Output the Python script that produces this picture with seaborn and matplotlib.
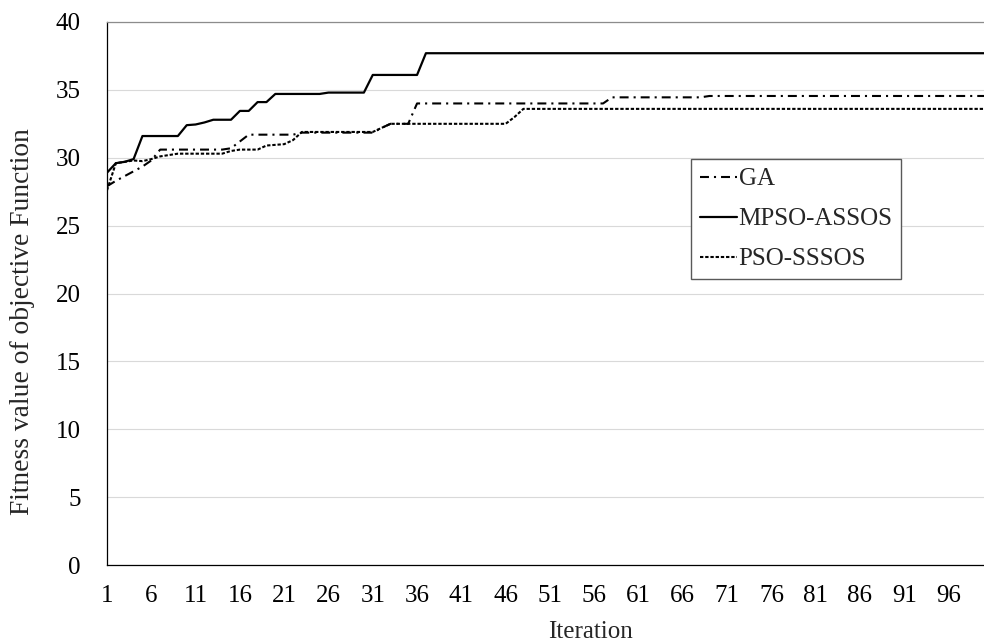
import matplotlib
matplotlib.use("Agg")
import matplotlib.pyplot as plt
import seaborn as sns
import pandas as pd

# Fitness value per iteration for each algorithm
iterations = list(range(1, 101))

ga = [
    27.9, 28.3, 28.65, 29.0, 29.35, 29.8, 30.6, 30.6, 30.6, 30.6,
    30.6, 30.6, 30.6, 30.6, 30.7, 31.2, 31.7, 31.7, 31.7, 31.7,
    31.7, 31.7, 31.85, 31.85, 31.85, 31.85, 31.85, 31.85, 31.85, 31.85,
    31.85, 32.2, 32.5, 32.5, 32.5, 34.0, 34.0, 34.0, 34.0, 34.0,
    34.0, 34.0, 34.0, 34.0, 34.0, 34.0, 34.0, 34.0, 34.0, 34.0,
    34.0, 34.0, 34.0, 34.0, 34.0, 34.0, 34.0, 34.45, 34.45, 34.45,
    34.45, 34.45, 34.45, 34.45, 34.45, 34.45, 34.45, 34.45, 34.55, 34.55,
    34.55, 34.55, 34.55, 34.55, 34.55, 34.55, 34.55, 34.55, 34.55, 34.55,
    34.55, 34.55, 34.55, 34.55, 34.55, 34.55, 34.55, 34.55, 34.55, 34.55,
    34.55, 34.55, 34.55, 34.55, 34.55, 34.55, 34.55, 34.55, 34.55, 34.55,
]

mpso_assos = [
    28.9, 29.6, 29.7, 29.9, 31.6, 31.6, 31.6, 31.6, 31.6, 32.4,
    32.45, 32.6, 32.8, 32.8, 32.8, 33.45, 33.45, 34.1, 34.1, 34.7,
    34.7, 34.7, 34.7, 34.7, 34.7, 34.8, 34.8, 34.8, 34.8, 34.8,
    36.1, 36.1, 36.1, 36.1, 36.1, 36.1, 37.7, 37.7, 37.7, 37.7,
    37.7, 37.7, 37.7, 37.7, 37.7, 37.7, 37.7, 37.7, 37.7, 37.7,
    37.7, 37.7, 37.7, 37.7, 37.7, 37.7, 37.7, 37.7, 37.7, 37.7,
    37.7, 37.7, 37.7, 37.7, 37.7, 37.7, 37.7, 37.7, 37.7, 37.7,
    37.7, 37.7, 37.7, 37.7, 37.7, 37.7, 37.7, 37.7, 37.7, 37.7,
    37.7, 37.7, 37.7, 37.7, 37.7, 37.7, 37.7, 37.7, 37.7, 37.7,
    37.7, 37.7, 37.7, 37.7, 37.7, 37.7, 37.7, 37.7, 37.7, 37.7,
]

pso_sssos = [
    27.6, 29.6, 29.7, 29.8, 29.75, 29.9, 30.1, 30.2, 30.3, 30.3,
    30.3, 30.3, 30.3, 30.3, 30.5, 30.6, 30.6, 30.6, 30.9, 30.95,
    31.0, 31.3, 31.9, 31.9, 31.9, 31.9, 31.9, 31.9, 31.9, 31.9,
    31.9, 32.2, 32.5, 32.5, 32.5, 32.5, 32.5, 32.5, 32.5, 32.5,
    32.5, 32.5, 32.5, 32.5, 32.5, 32.5, 33.0, 33.6, 33.6, 33.6,
    33.6, 33.6, 33.6, 33.6, 33.6, 33.6, 33.6, 33.6, 33.6, 33.6,
    33.6, 33.6, 33.6, 33.6, 33.6, 33.6, 33.6, 33.6, 33.6, 33.6,
    33.6, 33.6, 33.6, 33.6, 33.6, 33.6, 33.6, 33.6, 33.6, 33.6,
    33.6, 33.6, 33.6, 33.6, 33.6, 33.6, 33.6, 33.6, 33.6, 33.6,
    33.6, 33.6, 33.6, 33.6, 33.6, 33.6, 33.6, 33.6, 33.6, 33.6,
]

series_names = ["GA", "MPSO-ASSOS", "PSO-SSSOS"]
y_ticks = [0, 5, 10, 15, 20, 25, 30, 35, 40]
x_label_ticks = list(range(1, 100, 5))

sns.set_theme(style="white")
plt.rcParams["font.family"] = ["Liberation Serif", "DejaVu Serif"]

W, H = 984, 644
fig = plt.figure(figsize=(W / 100, H / 100), dpi=100)
ax = fig.add_axes([107 / W, 1 - 565 / H, (W - 107) / W, (565 - 22) / H])

styles = {
    "GA": dict(linestyle=(0, (4.3, 2.4, 1.0, 2.4)), linewidth=1.5),
    "MPSO-ASSOS": dict(linestyle="-", linewidth=1.6),
    "PSO-SSSOS": dict(linestyle=(0, (1.6, 0.9)), linewidth=1.5),
}

for name, values in zip(series_names, [ga, mpso_assos, pso_sssos]):
    df = pd.DataFrame({"Iteration": iterations, "Fitness": values})
    sns.lineplot(data=df, x="Iteration", y="Fitness", ax=ax, color="black",
                 label=name, legend=False, **styles[name])

ax.set_ylim(0, 40)
ax.set_xlim(1, 1 + (W - 107) / 8.96)
ax.set_yticks(y_ticks)
ax.set_xticks(iterations)
ax.set_xticklabels([str(i) if i in x_label_ticks else "" for i in iterations])

ax.grid(axis="y", color="#d9d9d9", linewidth=0.8)
ax.set_axisbelow(True)
for side in ["left", "bottom"]:
    ax.spines[side].set_color("black")
    ax.spines[side].set_linewidth(0.9)
ax.spines["top"].set_color("#8c8c8c")
ax.spines["top"].set_linewidth(0.9)
ax.spines["right"].set_visible(False)

ax.tick_params(axis="x", direction="in", length=4.5, width=0.8, color="black",
               pad=14.5, labelsize=18, labelcolor="black")
ax.tick_params(axis="y", direction="in", length=5.5, width=0.8, color="black",
               pad=19, labelsize=18, labelcolor="black")
ax.set_xlabel("")
ax.set_ylabel("")

fig.text(590 / W, 1 / H, "Iteration", ha="center", va="bottom", fontsize=18)
fig.text(23 / W, 1 - 322 / H, "Fitness value of objective Function",
         ha="center", va="center", rotation=90, fontsize=19.8)

leg = ax.legend(loc="upper left", bbox_to_anchor=(691 / W, 1 - 159 / H),
                bbox_transform=fig.transFigure, borderaxespad=0,
                fontsize=18, frameon=True, fancybox=False, framealpha=1,
                edgecolor="#595959", handlelength=1.5, handletextpad=0.05,
                borderpad=0.35, labelspacing=0.7)
leg.get_frame().set_linewidth(1.0)

fig.savefig("out.png", dpi=100)
